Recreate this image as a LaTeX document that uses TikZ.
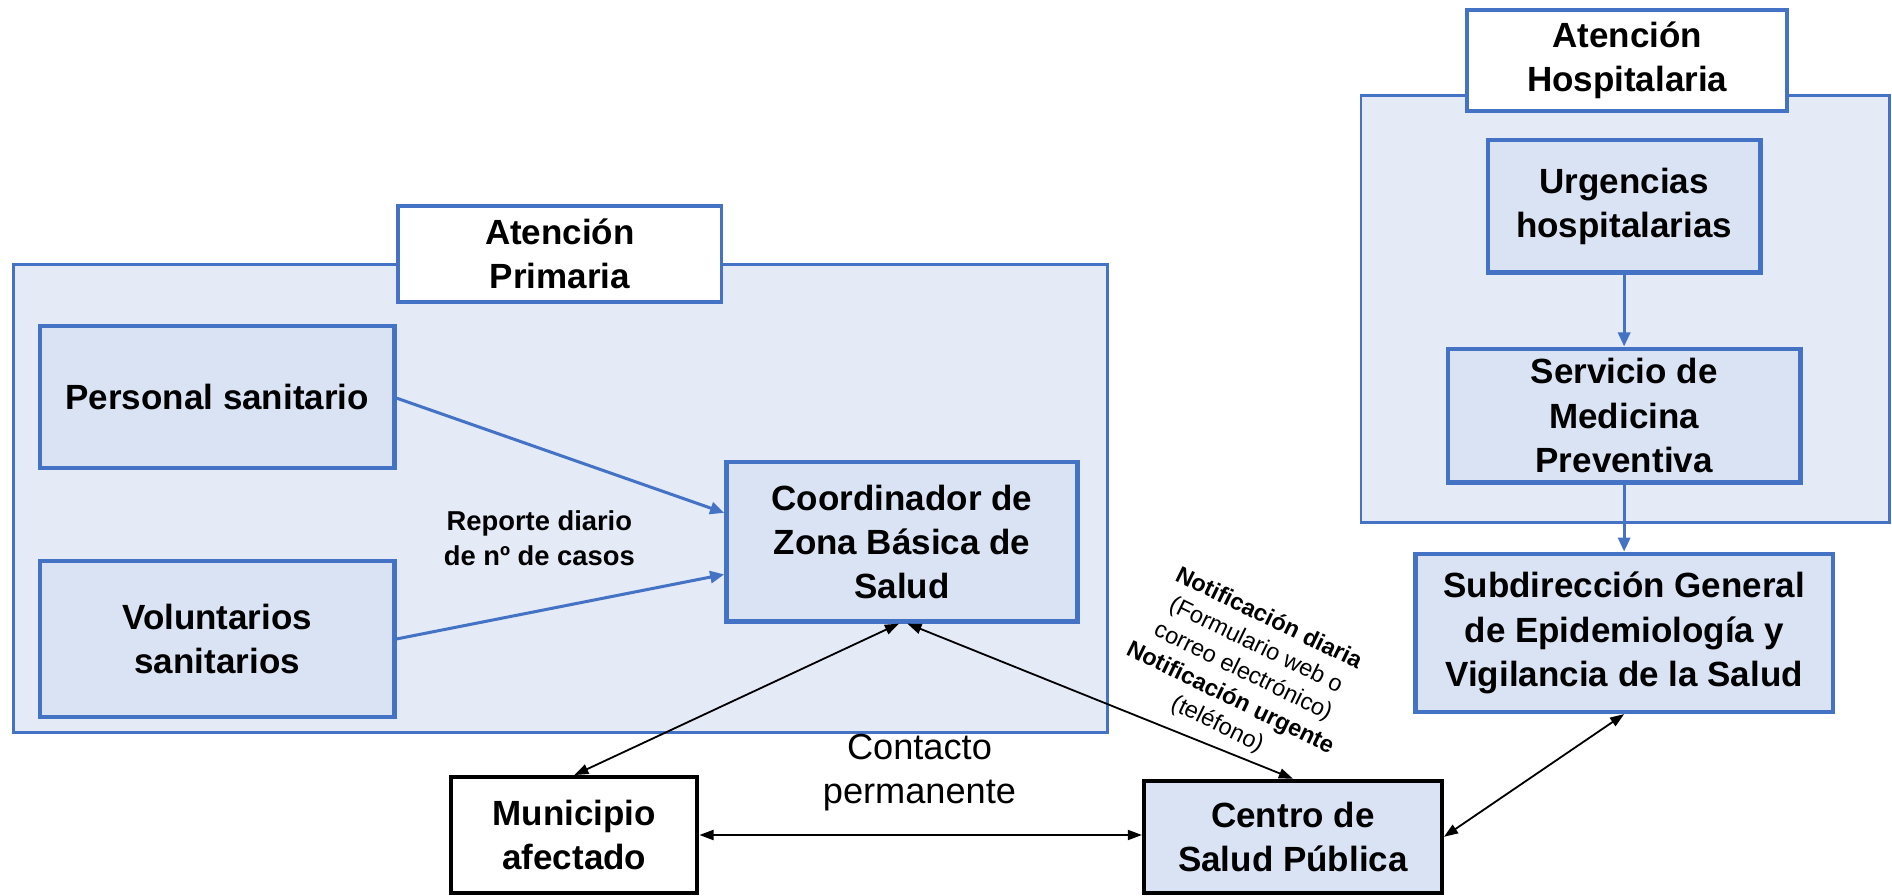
\documentclass[tikz,border=0pt]{standalone}
\usepackage{fontspec}
\setmainfont{Liberation Sans}
\usetikzlibrary{arrows.meta,calc}
\definecolor{blueb}{HTML}{4472C4}
\definecolor{contfill}{HTML}{E4EAF6}
\definecolor{boxfill}{HTML}{DAE3F3}
\tikzset{
  cont/.style={draw=blueb, line width=1.3pt, fill=contfill, inner sep=0pt},
  titlebox/.style={draw=blueb, line width=1.9pt, fill=white, align=center, inner sep=0pt, font=\fontsize{17.4}{22}\selectfont\bfseries},
  bbox/.style={draw=blueb, line width=2.2pt, fill=boxfill, align=center, inner sep=0pt, font=\fontsize{17.4}{22}\selectfont\bfseries},
  kbox/.style={draw=black, line width=2pt, align=center, inner sep=0pt, font=\fontsize{17.4}{22}\selectfont\bfseries},
  barrow/.style={draw=blueb, line width=1.5pt, -{Triangle[length=7pt,width=6pt]}},
  karrow/.style={draw=black, line width=0.9pt, {Triangle[length=7pt,width=5pt]}-{Triangle[length=7pt,width=5pt]}},
}
\begin{document}
\begin{tikzpicture}[x=0.6pt,y=-0.6pt]
\useasboundingbox (0,0) rectangle (1568,742);
% containers
\node[cont, minimum width=544.2pt, minimum height=232.8pt] (APcont) at (464.5,413) {};
\node[cont, minimum width=262.8pt, minimum height=212.4pt] (AHcont) at (1347,256) {};
% titles
\node[titlebox, minimum width=160.8pt, minimum height=47.4pt] (APtitle) at (464,210.5) {Atención\\Primaria};
\node[titlebox, minimum width=159pt, minimum height=50.4pt] (AHtitle) at (1348.5,50) {Atención\\Hospitalaria};
% boxes
\node[bbox, minimum width=176.4pt, minimum height=70.8pt] (PS) at (180,329) {Personal sanitario};
\node[bbox, minimum width=176.4pt, minimum height=77.4pt] (VS) at (180,529.5) {Voluntarios\\sanitarios};
\node[bbox, minimum width=174.6pt, minimum height=79.2pt] (CZ) at (747.5,449) {Coordinador de\\Zona Básica de\\Salud};
\node[bbox, minimum width=135.6pt, minimum height=66pt] (UH) at (1346,171) {Urgencias\\hospitalarias};
\node[bbox, minimum width=175.2pt, minimum height=66.6pt] (SMP) at (1346,344.5) {Servicio de\\Medicina\\Preventiva};
\node[bbox, minimum width=207.6pt, minimum height=78.6pt] (SG) at (1346,524.5) {Subdirección General\\de Epidemiología y\\Vigilancia de la Salud};
\node[kbox, fill=white, minimum width=122.4pt, minimum height=57.6pt] (MA) at (476,692) {Municipio\\afectado};
\node[kbox, fill=boxfill, minimum width=148.2pt, minimum height=55.8pt] (CSP) at (1071.5,693.5) {Centro de\\Salud Pública};
% labels
\node[align=center, font=\fontsize{13.6}{17.5}\selectfont\bfseries] (rep) at (447,446) {Reporte diario\\de nº de casos};
\node[align=center, font=\fontsize{18}{22}\selectfont] (cont) at (762,640) {Contacto\\permanente};
\node[align=center, rotate=-26, font=\fontsize{11.7}{14.6}\selectfont] (notif) at (1030,557)
  {\textbf{Notificación diaria}\\(Formulario web o\\correo electrónico)\\\textbf{Notificación urgente}\\(teléfono)};
% blue arrows
\draw[barrow] (PS.east |- 0,330) -- ($(CZ.west)+(0,-24)$);
\draw[barrow] (VS.east) -- ($(CZ.west)+(0,27)$);
\draw[barrow] (UH.south) -- (SMP.north);
\draw[barrow] (SMP.south) -- (SG.north);
% black arrows
\draw[karrow] (MA.north) -- ($(CZ.south)+(-2.5,0)$);
\draw[karrow] ($(CZ.south)+(4.5,0)$) -- (CSP.north);
\draw[karrow] (MA.east) -- (MA.east -| CSP.west);
\draw[karrow] (SG.south) -- (CSP.east);
\end{tikzpicture}
\end{document}
